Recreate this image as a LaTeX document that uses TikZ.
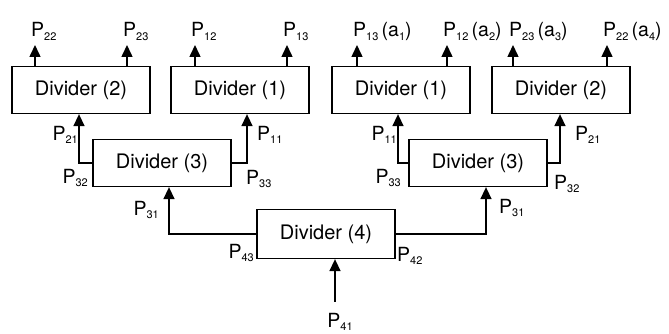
\documentclass[tikz,border=0pt]{standalone}
\usepackage{fontspec}
\setmainfont{TeX Gyre Heros}
\usetikzlibrary{arrows.meta}

\newcommand{\psub}[1]{P\raisebox{-0.35ex}{\fontsize{11}{11}\selectfont #1}}
\newcommand{\asub}[1]{a\raisebox{-0.35ex}{\fontsize{11}{11}\selectfont #1}}

\begin{document}
\begin{tikzpicture}[
    x=1pt, y=1pt,
    >={Triangle[length=12pt,width=11pt]},
    divbox/.style={draw, line width=1.3pt, minimum width=138pt,
                   minimum height=#1, inner sep=0pt,
                   font=\fontsize{20}{24}\selectfont},
    divbox/.default=47pt,
    arr/.style={->, line width=1.5pt},
    plbl/.style={inner sep=0pt, font=\fontsize{19.5}{22}\selectfont},
  ]
  \useasboundingbox (0,0) rectangle (669,334);

  \node[divbox] (d2l) at (81,244) {Divider (2)};
  \node[divbox] (d1l) at (240,244) {Divider (1)};
  \node[divbox] (d1r) at (401,244) {Divider (1)};
  \node[divbox] (d2r) at (561,244) {Divider (2)};
  \node[divbox] (d3l) at (162,171) {Divider (3)};
  \node[divbox] (d3r) at (478,171) {Divider (3)};
  \node[divbox=49pt] (d4) at (326,100) {Divider (4)};

  % output ports
  \coordinate (o22l) at (35,289);
  \coordinate (o23l) at (127,289);
  \coordinate (o12l) at (195,289);
  \coordinate (o13l) at (287,289);
  \coordinate (o13r) at (357,289);
  \coordinate (o12r) at (447,289);
  \coordinate (o23r) at (513,289);
  \coordinate (o22r) at (607,289);
  \foreach \o/\b in {o22l/d2l, o23l/d2l, o12l/d1l, o13l/d1l,
                     o13r/d1r, o12r/d1r, o23r/d2r, o22r/d2r}
    \draw[arr] (\b.north -| \o) -- (\o);

  \node[plbl, anchor=base west] (p22l) at ([xshift=-4pt,yshift=8pt]o22l) {\psub{22}};
  \node[plbl, anchor=base west] (p23l) at ([xshift=-4pt,yshift=8pt]o23l) {\psub{23}};
  \node[plbl, anchor=base west] (p12l) at ([xshift=-4pt,yshift=8pt]o12l) {\psub{12}};
  \node[plbl, anchor=base west] (p13l) at ([xshift=-4pt,yshift=8pt]o13l) {\psub{13}};
  \node[plbl, anchor=base west] (p13r) at ([xshift=-4pt,yshift=8pt]o13r) {\psub{13}\,(\asub{1})};
  \node[plbl, anchor=base west] (p12r) at ([xshift=-4pt,yshift=8pt]o12r) {\psub{12}\,(\asub{2})};
  \node[plbl, anchor=base west] (p23r) at ([xshift=-4pt,yshift=8pt]o23r) {\psub{23}\,(\asub{3})};
  \node[plbl, anchor=base west] (p22r) at ([xshift=-4pt,yshift=8pt]o22r) {\psub{22}\,(\asub{4})};

  % tree
  \draw[arr] (d3l.west) -| ([xshift=-2pt]d2l.south);
  \draw[arr] (d3l.east) -| ([xshift=7pt]d1l.south);
  \draw[arr] (d3r.west) -| ([xshift=-3pt]d1r.south);
  \draw[arr] (d3r.east) -| ([xshift=-1pt]d2r.south);
  \draw[arr] (d4.west) -| ([xshift=7pt]d3l.south);
  \draw[arr] (d4.east) -| ([xshift=8pt]d3r.south);
  \coordinate (in) at (335,32);
  \draw[arr] (in) -- (in |- d4.south);

  % port labels
  \node[plbl, anchor=east] (p21l) at (78,199) {\psub{21}};
  \node[plbl, anchor=west] (p11l) at (257,199) {\psub{11}};
  \node[plbl, anchor=east] (p32l) at (88,156) {\psub{32}};
  \node[plbl, anchor=west] (p33l) at (246,155) {\psub{33}};
  \node[plbl, anchor=east] (p11r) at (397,199) {\psub{11}};
  \node[plbl, anchor=west] (p21r) at (575,199) {\psub{21}};
  \node[plbl, anchor=east] (p33r) at (401,156) {\psub{33}};
  \node[plbl, anchor=west] (p32r) at (554,150) {\psub{32}};
  \node[plbl, anchor=east] (p31l) at (159,124) {\psub{31}};
  \node[plbl, anchor=east] (p43) at (254,81) {\psub{43}};
  \node[plbl, anchor=west] (p42) at (397,78) {\psub{42}};
  \node[plbl, anchor=west] (p31r) at (499,126) {\psub{31}};
  \node[plbl] (p41) at (340,12) {\psub{41}};
\end{tikzpicture}
\end{document}
